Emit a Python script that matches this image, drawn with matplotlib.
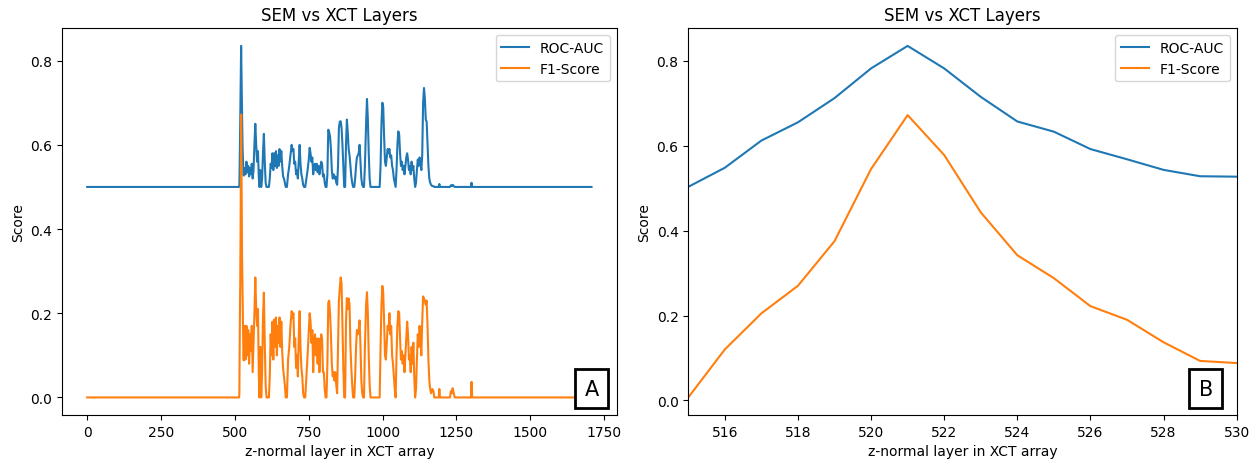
import matplotlib
matplotlib.use("Agg")
import matplotlib.pyplot as plt
import numpy as np

# ---- zoomed range (panel B) ----
zoom_layers = [515, 516, 517, 518, 519, 520, 521, 522, 523, 524, 525, 526, 527, 528, 529, 530]
zoom_roc = [0.503, 0.548, 0.612, 0.655, 0.712, 0.782, 0.835, 0.782, 0.715, 0.657,
            0.633, 0.592, 0.568, 0.543, 0.528, 0.527]
zoom_f1 = [0.007, 0.120, 0.205, 0.270, 0.375, 0.545, 0.672, 0.578, 0.443, 0.342,
           0.288, 0.222, 0.190, 0.137, 0.093, 0.088]

# ---- full range (panel A) ----
pre_layers = [0, 514]
pre_roc = [0.5, 0.5]
pre_f1 = [0.0, 0.0]

active_layers = [533, 536, 539, 542, 545, 548, 551, 554, 557, 560, 563, 566, 569, 572, 575, 578,
                 581, 583, 586, 589, 592, 595, 598, 601, 604, 607, 612, 615, 618, 621, 624, 627,
                 630, 633, 636, 639, 642, 645, 648, 651, 654, 657, 660, 663, 666, 669, 672, 676,
                 680, 684, 688, 692, 695, 698, 701, 704, 707, 710, 713, 716, 719, 722, 725, 728,
                 731, 734, 738, 742, 746, 750, 753, 756, 759, 762, 765, 768, 771, 774, 777, 780,
                 783, 786, 789, 792, 795, 798, 801, 804, 807, 810, 813, 816, 819, 822, 825, 828,
                 831, 834, 837, 840, 843, 846, 849, 852, 855, 858, 861, 864, 867, 870, 873, 876,
                 879, 882, 885, 888, 891, 894, 897, 900, 904, 907, 910, 913, 916, 919, 922, 925,
                 928, 931, 934, 937, 940, 944, 947, 950, 953, 956, 959, 990, 993, 996, 999, 1002,
                 1005, 1008, 1011, 1014, 1017, 1020, 1023, 1026, 1029, 1032, 1035, 1038, 1041, 1044,
                 1047, 1050, 1053, 1056, 1059, 1062, 1065, 1068, 1071, 1074, 1077, 1080, 1083, 1086,
                 1089, 1092, 1095, 1098, 1101, 1104, 1107, 1110, 1113, 1116, 1119, 1122, 1125, 1128,
                 1131, 1134, 1137, 1140, 1143, 1146, 1149, 1152, 1155, 1158, 1161, 1164, 1168, 1172,
                 1175, 1190, 1192, 1194, 1228, 1231, 1234, 1237, 1240, 1244, 1299, 1301, 1303, 1707]
active_roc = [0.545, 0.530, 0.560, 0.535, 0.550, 0.525, 0.545, 0.530, 0.555, 0.520, 0.540, 0.600,
              0.650, 0.600, 0.560, 0.585, 0.520, 0.500, 0.540, 0.500, 0.520, 0.580, 0.626, 0.560,
              0.510, 0.500, 0.500, 0.500, 0.520, 0.555, 0.545, 0.580, 0.540, 0.580, 0.550, 0.585,
              0.545, 0.575, 0.550, 0.590, 0.560, 0.585, 0.550, 0.525, 0.520, 0.510, 0.500, 0.500,
              0.530, 0.550, 0.575, 0.600, 0.585, 0.590, 0.555, 0.560, 0.530, 0.540, 0.520, 0.560,
              0.600, 0.555, 0.530, 0.520, 0.505, 0.500, 0.500, 0.520, 0.540, 0.565, 0.593, 0.580,
              0.560, 0.570, 0.530, 0.550, 0.555, 0.540, 0.555, 0.535, 0.550, 0.530, 0.545, 0.560,
              0.555, 0.525, 0.530, 0.510, 0.500, 0.500, 0.530, 0.636, 0.630, 0.620, 0.590, 0.540,
              0.520, 0.530, 0.520, 0.525, 0.510, 0.505, 0.550, 0.640, 0.655, 0.656, 0.640, 0.600,
              0.550, 0.500, 0.500, 0.600, 0.660, 0.630, 0.590, 0.575, 0.550, 0.525, 0.510, 0.500,
              0.500, 0.520, 0.550, 0.570, 0.575, 0.580, 0.600, 0.560, 0.520, 0.505, 0.500, 0.500,
              0.550, 0.650, 0.709, 0.660, 0.580, 0.520, 0.500, 0.500, 0.550, 0.650, 0.700, 0.690,
              0.620, 0.560, 0.550, 0.570, 0.590, 0.580, 0.590, 0.570, 0.575, 0.550, 0.540, 0.520,
              0.510, 0.500, 0.540, 0.600, 0.632, 0.625, 0.580, 0.550, 0.560, 0.540, 0.550, 0.530,
              0.550, 0.570, 0.580, 0.565, 0.540, 0.550, 0.530, 0.560, 0.540, 0.550, 0.520, 0.500,
              0.510, 0.540, 0.565, 0.550, 0.570, 0.560, 0.540, 0.575, 0.700, 0.735, 0.710, 0.660,
              0.655, 0.600, 0.550, 0.520, 0.510, 0.505, 0.502, 0.502, 0.500, 0.500, 0.507, 0.500,
              0.500, 0.504, 0.502, 0.505, 0.503, 0.500, 0.500, 0.510, 0.500, 0.500]
active_f1 = [0.170, 0.090, 0.170, 0.100, 0.160, 0.080, 0.150, 0.110, 0.170, 0.060, 0.130, 0.200,
             0.285, 0.210, 0.170, 0.210, 0.050, 0.000, 0.120, 0.000, 0.060, 0.190, 0.249, 0.130,
             0.030, 0.000, 0.000, 0.000, 0.050, 0.150, 0.100, 0.180, 0.090, 0.185, 0.120, 0.190,
             0.100, 0.170, 0.130, 0.190, 0.120, 0.180, 0.110, 0.070, 0.050, 0.030, 0.000, 0.000,
             0.090, 0.120, 0.170, 0.205, 0.190, 0.200, 0.120, 0.140, 0.070, 0.100, 0.050, 0.140,
             0.205, 0.120, 0.070, 0.050, 0.010, 0.000, 0.000, 0.050, 0.100, 0.160, 0.200, 0.180,
             0.130, 0.160, 0.060, 0.140, 0.150, 0.100, 0.140, 0.080, 0.140, 0.060, 0.120, 0.150,
             0.140, 0.060, 0.060, 0.020, 0.000, 0.000, 0.080, 0.225, 0.230, 0.200, 0.150, 0.080,
             0.050, 0.060, 0.040, 0.060, 0.030, 0.010, 0.120, 0.230, 0.260, 0.285, 0.270, 0.170,
             0.070, 0.000, 0.000, 0.180, 0.236, 0.210, 0.235, 0.220, 0.120, 0.070, 0.030, 0.000,
             0.000, 0.050, 0.120, 0.160, 0.150, 0.160, 0.183, 0.120, 0.040, 0.010, 0.000, 0.000,
             0.120, 0.220, 0.250, 0.200, 0.100, 0.030, 0.000, 0.000, 0.120, 0.220, 0.265, 0.250,
             0.180, 0.100, 0.090, 0.130, 0.170, 0.160, 0.200, 0.150, 0.170, 0.100, 0.080, 0.050,
             0.020, 0.000, 0.100, 0.170, 0.205, 0.200, 0.140, 0.090, 0.110, 0.080, 0.100, 0.060,
             0.100, 0.140, 0.180, 0.150, 0.090, 0.100, 0.060, 0.120, 0.080, 0.130, 0.050, 0.000,
             0.020, 0.090, 0.150, 0.120, 0.170, 0.140, 0.100, 0.180, 0.240, 0.235, 0.230, 0.220,
             0.230, 0.170, 0.090, 0.040, 0.020, 0.010, 0.020, 0.015, 0.000, 0.000, 0.020, 0.000,
             0.000, 0.015, 0.010, 0.022, 0.012, 0.000, 0.000, 0.037, 0.000, 0.000]

full_layers = pre_layers + zoom_layers + active_layers
full_roc = pre_roc + zoom_roc + active_roc
full_f1 = pre_f1 + zoom_f1 + active_f1

title = "SEM vs XCT Layers"
xlabel = "z-normal layer in XCT array"
ylabel = "Score"
series_names = ["ROC-AUC", "F1-Score"]
panel_labels = ["A", "B"]

fig = plt.figure(figsize=(12.55, 4.64), dpi=100)
axA = fig.add_axes([0.0494, 0.1034, 0.442, 0.8334])
axB = fig.add_axes([0.5484, 0.1034, 0.437, 0.8334])

axA.plot(full_layers, full_roc, color="#1f77b4", label=series_names[0])
axA.plot(full_layers, full_f1, color="#ff7f0e", label=series_names[1])
axA.set_xticks([0, 250, 500, 750, 1000, 1250, 1500, 1750])

axB.plot(zoom_layers, zoom_roc, color="#1f77b4", label=series_names[0])
axB.plot(zoom_layers, zoom_f1, color="#ff7f0e", label=series_names[1])
axB.set_xlim(515, 530)
axB.set_xticks([516, 518, 520, 522, 524, 526, 528, 530])

for ax, lab, xc in [(axA, panel_labels[0], 0.955), (axB, panel_labels[1], 0.944)]:
    ax.set_title(title)
    ax.set_xlabel(xlabel)
    ax.set_ylabel(ylabel)
    ax.set_yticks([0.0, 0.2, 0.4, 0.6, 0.8])
    ax.legend(loc="upper right")
    ax.text(xc, 0.042, lab, transform=ax.transAxes, fontsize=15, ha="center", va="bottom",
            bbox=dict(boxstyle="square,pad=0.45", fc="white", ec="black", lw=2), zorder=5)

fig.savefig("out.png", dpi=100)
